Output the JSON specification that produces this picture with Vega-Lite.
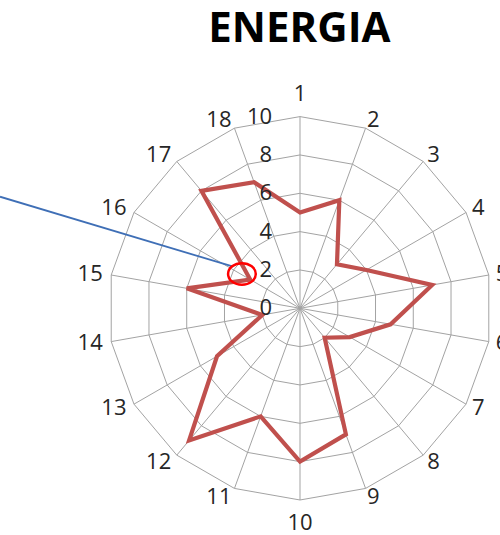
{
  "$schema": "https://vega.github.io/schema/vega-lite/v6.json",
  "width": 500,
  "height": 535,
  "autosize": "none",
  "padding": 0,
  "background": "white",
  "config": {"view": {"stroke": null}},
  "datasets": {
    "pts": [
      {"axis": 1, "value": 5},
      {"axis": 2, "value": 6},
      {"axis": 3, "value": 3},
      {"axis": 4, "value": 4},
      {"axis": 5, "value": 7},
      {"axis": 6, "value": 4.8},
      {"axis": 7, "value": 3},
      {"axis": 8, "value": 2},
      {"axis": 9, "value": 7},
      {"axis": 10, "value": 8},
      {"axis": 11, "value": 6},
      {"axis": 12, "value": 9},
      {"axis": 13, "value": 5},
      {"axis": 14, "value": 2},
      {"axis": 15, "value": 6},
      {"axis": 16, "value": 3},
      {"axis": 17, "value": 8},
      {"axis": 18, "value": 7}
    ],
    "ticks": [
      {"tick": 0}, {"tick": 2}, {"tick": 4}, {"tick": 6}, {"tick": 8}, {"tick": 10}
    ],
    "grid": [
      {"axis": 1, "levels": [2, 4, 6, 8, 10]},
      {"axis": 2, "levels": [2, 4, 6, 8, 10]},
      {"axis": 3, "levels": [2, 4, 6, 8, 10]},
      {"axis": 4, "levels": [2, 4, 6, 8, 10]},
      {"axis": 5, "levels": [2, 4, 6, 8, 10]},
      {"axis": 6, "levels": [2, 4, 6, 8, 10]},
      {"axis": 7, "levels": [2, 4, 6, 8, 10]},
      {"axis": 8, "levels": [2, 4, 6, 8, 10]},
      {"axis": 9, "levels": [2, 4, 6, 8, 10]},
      {"axis": 10, "levels": [2, 4, 6, 8, 10]},
      {"axis": 11, "levels": [2, 4, 6, 8, 10]},
      {"axis": 12, "levels": [2, 4, 6, 8, 10]},
      {"axis": 13, "levels": [2, 4, 6, 8, 10]},
      {"axis": 14, "levels": [2, 4, 6, 8, 10]},
      {"axis": 15, "levels": [2, 4, 6, 8, 10]},
      {"axis": 16, "levels": [2, 4, 6, 8, 10]},
      {"axis": 17, "levels": [2, 4, 6, 8, 10]},
      {"axis": 18, "levels": [2, 4, 6, 8, 10]}
    ]
  },
  "layer": [
    {
      "data": {"name": "grid"},
      "transform": [
        {"flatten": ["levels"], "as": ["level"]},
        {"calculate": "(datum.axis - 1) * PI / 9", "as": "theta"},
        {"calculate": "datum.level * sin(datum.theta)", "as": "gx"},
        {"calculate": "datum.level * cos(datum.theta)", "as": "gy"}
      ],
      "mark": {"type": "line", "interpolate": "linear-closed", "stroke": "#A3A3A3", "strokeWidth": 1},
      "encoding": {
        "x": {"field": "gx", "type": "quantitative", "scale": {"domain": [-15.65, 10.433], "nice": false, "zero": false}, "axis": null},
        "y": {"field": "gy", "type": "quantitative", "scale": {"domain": [-11.826, 16.083], "nice": false, "zero": false}, "axis": null},
        "detail": {"field": "level", "type": "nominal"},
        "order": {"field": "axis", "type": "quantitative"}
      }
    },
    {
      "data": {"name": "grid"},
      "transform": [
        {"calculate": "(datum.axis - 1) * PI / 9", "as": "theta"},
        {"calculate": "10 * sin(datum.theta)", "as": "ex"},
        {"calculate": "10 * cos(datum.theta)", "as": "ey"}
      ],
      "mark": {"type": "rule", "stroke": "#A3A3A3", "strokeWidth": 1},
      "encoding": {
        "x": {"field": "ex", "type": "quantitative"},
        "y": {"field": "ey", "type": "quantitative"},
        "x2": {"datum": 0},
        "y2": {"datum": 0}
      }
    },
    {
      "data": {"name": "pts"},
      "transform": [
        {"calculate": "(datum.axis - 1) * PI / 9", "as": "theta"},
        {"calculate": "datum.value * sin(datum.theta)", "as": "px"},
        {"calculate": "datum.value * cos(datum.theta)", "as": "py"}
      ],
      "mark": {"type": "line", "interpolate": "linear-closed", "stroke": "#C0504D", "strokeWidth": 4.2, "strokeJoin": "miter"},
      "encoding": {
        "x": {"field": "px", "type": "quantitative"},
        "y": {"field": "py", "type": "quantitative"},
        "order": {"field": "axis", "type": "quantitative"}
      }
    },
    {
      "data": {"name": "ticks"},
      "mark": {"type": "text", "align": "right", "baseline": "middle", "font": "Open Sans", "fontSize": 22, "color": "#262626"},
      "encoding": {
        "x": {"datum": -1.45, "type": "quantitative"},
        "y": {"field": "tick", "type": "quantitative"},
        "text": {"field": "tick", "type": "nominal"}
      }
    },
    {
      "data": {"name": "pts"},
      "transform": [
        {"filter": "datum.axis >= 11"},
        {"calculate": "(datum.axis - 1) * PI / 9", "as": "theta"},
        {"calculate": "10.45 * sin(datum.theta)", "as": "lx"},
        {"calculate": "10.45 * cos(datum.theta)", "as": "ly"}
      ],
      "mark": {"type": "text", "align": "right", "baseline": "middle", "dx": 0, "font": "Open Sans", "fontSize": 22, "color": "#262626"},
      "encoding": {
        "x": {"field": "lx", "type": "quantitative"},
        "y": {"field": "ly", "type": "quantitative"},
        "text": {"field": "axis", "type": "nominal"}
      }
    },
    {
      "data": {"name": "pts"},
      "transform": [
        {"filter": "datum.axis >= 2 && datum.axis <= 9"},
        {"calculate": "(datum.axis - 1) * PI / 9", "as": "theta"},
        {"calculate": "10.45 * sin(datum.theta)", "as": "lx"},
        {"calculate": "10.45 * cos(datum.theta)", "as": "ly"}
      ],
      "mark": {"type": "text", "align": "left", "baseline": "middle", "dx": -1.5, "font": "Open Sans", "fontSize": 22, "color": "#262626"},
      "encoding": {
        "x": {"field": "lx", "type": "quantitative"},
        "y": {"field": "ly", "type": "quantitative"},
        "text": {"field": "axis", "type": "nominal"}
      }
    },
    {
      "data": {"name": "pts"},
      "transform": [
        {"filter": "datum.axis == 1 || datum.axis == 10"},
        {"calculate": "(datum.axis - 1) * PI / 9", "as": "theta"},
        {"calculate": "11.2 * sin(datum.theta)", "as": "lx"},
        {"calculate": "11.2 * cos(datum.theta)", "as": "ly"}
      ],
      "mark": {"type": "text", "align": "center", "baseline": "middle", "font": "Open Sans", "fontSize": 22, "color": "#262626"},
      "encoding": {
        "x": {"field": "lx", "type": "quantitative"},
        "y": {"field": "ly", "type": "quantitative"},
        "text": {"field": "axis", "type": "nominal"}
      }
    },
    {
      "data": {"values": [{"note": "callout"}]},
      "mark": {"type": "rule", "stroke": "#3F6FB6", "strokeWidth": 1.8},
      "encoding": {
        "x": {"datum": -15.65, "type": "quantitative"},
        "y": {"datum": 5.82, "type": "quantitative"},
        "x2": {"datum": -3.48},
        "y2": {"datum": 2.17}
      }
    },
    {
      "data": {"values": [{"note": "circle"}]},
      "mark": {"type": "point", "shape": "M -1 0 A 1 0.78 0 1 0 1 0 A 1 0.78 0 1 0 -1 0 Z", "size": 767, "filled": false, "stroke": "#FF0000", "strokeWidth": 2.5, "opacity": 1},
      "encoding": {
        "x": {"datum": -3.03, "type": "quantitative"},
        "y": {"datum": 1.79, "type": "quantitative"}
      }
    },
    {
      "data": {"values": [{"t": "ENERGIA"}]},
      "mark": {"type": "text", "align": "center", "baseline": "middle", "font": "Open Sans", "fontWeight": "bold", "fontSize": 42, "color": "#000000"},
      "encoding": {
        "x": {"datum": -0.03, "type": "quantitative"},
        "y": {"datum": 14.55, "type": "quantitative"},
        "text": {"field": "t", "type": "nominal"}
      }
    }
  ]
}
